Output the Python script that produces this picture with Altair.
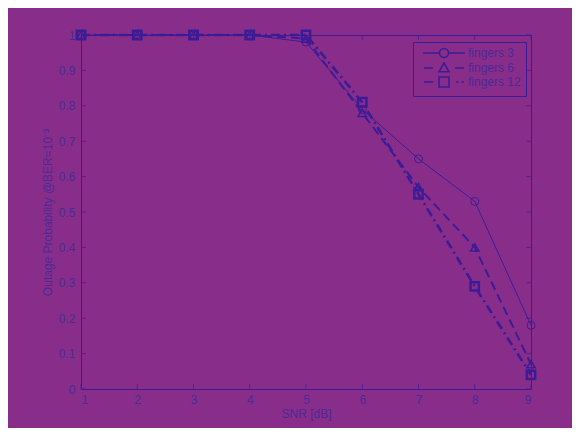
import altair as alt
import pandas as pd

snr = [1, 2, 3, 4, 5, 6, 7, 8, 9]
fingers_3 = [1.0, 1.0, 1.0, 1.0, 0.98, 0.79, 0.65, 0.53, 0.18]
fingers_6 = [1.0, 1.0, 1.0, 1.0, 0.99, 0.78, 0.57, 0.40, 0.07]
fingers_12 = [1.0, 1.0, 1.0, 1.0, 1.0, 0.81, 0.55, 0.29, 0.04]
series_names = ["fingers 3", "fingers 6", "fingers 12"]
x_ticks = [1, 2, 3, 4, 5, 6, 7, 8, 9]
y_ticks = [0, 0.1, 0.2, 0.3, 0.4, 0.5, 0.6, 0.7, 0.8, 0.9, 1]

BG = "#882E8A"
INK = "#3C1C96"
TEXT = "#4A2A95"
FONT = "Liberation Sans"
NARROW = "Liberation Sans Narrow, Liberation Sans"

rows = []
for name, vals in zip(series_names, [fingers_3, fingers_6, fingers_12]):
    for xv, yv in zip(snr, vals):
        rows.append({"snr": xv, "p": yv, "series": name})
df = pd.DataFrame(rows)

xs = alt.Scale(domain=[1, 9], nice=False, zero=False)
ys = alt.Scale(domain=[0, 1], nice=False, zero=False)

x_axis = alt.Axis(values=x_ticks, format="d", title="SNR [dB]", domain=False,
                  ticks=False, grid=False, labelPadding=5, titlePadding=3,
                  labelFont=NARROW, titleFont=FONT)
y_axis = alt.Axis(values=y_ticks, format="~g",
                  title="Outage Probability  @BER=10⁻³", domain=False,
                  ticks=False, grid=False, labelPadding=6, titlePadding=4,
                  labelFont=NARROW, titleFont=FONT)

X = alt.X("snr:Q", scale=xs, axis=x_axis)
Y = alt.Y("p:Q", scale=ys, axis=y_axis)

styles = {
    "fingers 3": dict(dash=None, width=1, shape="circle", size=64, sw=1),
    "fingers 6": dict(dash=[9, 5], width=2, shape="triangle-up", size=70, sw=1.5),
    "fingers 12": dict(dash=[9, 4, 2, 4], width=2.6, shape="square", size=70, sw=2.5),
}

layers = []
for name in series_names:
    st = styles[name]
    base = alt.Chart(df).transform_filter(alt.datum.series == name)
    line_kw = dict(color=INK, strokeWidth=st["width"])
    if st["dash"]:
        line_kw["strokeDash"] = st["dash"]
    layers.append(base.mark_line(**line_kw).encode(x=X, y=Y))
    layers.append(base.mark_point(shape=st["shape"], filled=False, color=INK,
                                  size=st["size"], strokeWidth=st["sw"],
                                  opacity=1).encode(x=X, y=Y))

legend_paths = [
    "M-4.2,0H-0.9M0.9,0H4.2M-0.9,0A0.9,0.9,0,1,0,0.9,0A0.9,0.9,0,1,0,-0.9,0Z",
    "M-4,0H-2.2M2.2,0H4M0,-1L1,0.75L-1,0.75Z",
    "M-4,0H-2.1M-1,-1H1V1H-1ZM2.4,0H2.9M3.5,0H4",
]

legend_layer = alt.Chart(df).mark_point(opacity=0, filled=False, color=INK).encode(
    x=X, y=Y,
    shape=alt.Shape("series:N",
                    scale=alt.Scale(domain=series_names, range=legend_paths),
                    legend=alt.Legend(title=None, orient="none", legendX=332, legendY=7,
                                      padding=5, symbolSize=100, symbolOffset=20,
                                      labelOffset=18, symbolStrokeWidth=1.6,
                                      symbolOpacity=1, symbolFillColor="transparent",
                                      symbolStrokeColor=INK, strokeColor=INK,
                                      fillColor=BG, labelFont=FONT, labelFontSize=12,
                                      labelColor=TEXT, rowPadding=-2)),
)

# inward tick marks on all four sides
bottom = pd.DataFrame({"snr": x_ticks, "p": [0] * len(x_ticks)})
top = pd.DataFrame({"snr": x_ticks, "p": [1] * len(x_ticks)})
left = pd.DataFrame({"snr": [1] * len(y_ticks), "p": y_ticks})
right = pd.DataFrame({"snr": [9] * len(y_ticks), "p": y_ticks})

tick_layers = [
    alt.Chart(bottom).mark_tick(orient="vertical", size=5, thickness=1, color=INK, yOffset=-2.5).encode(x=X, y=Y),
    alt.Chart(top).mark_tick(orient="vertical", size=5, thickness=1, color=INK, yOffset=2.5).encode(x=X, y=Y),
    alt.Chart(left).mark_tick(orient="horizontal", size=5, thickness=1, color=INK, xOffset=2.5).encode(x=X, y=Y),
    alt.Chart(right).mark_tick(orient="horizontal", size=5, thickness=1, color=INK, xOffset=-2.5).encode(x=X, y=Y),
]

chart = alt.layer(*tick_layers, *layers, legend_layer).properties(
    width=450, height=354,
    autosize=alt.AutoSizeParams(type="none"),
    padding={"left": 73, "top": 27, "right": 41, "bottom": 39},
    background=BG,
).configure_view(
    stroke=INK, strokeWidth=1
).configure_axis(
    labelFontSize=12, labelColor=TEXT, titleFontSize=12, titleColor=TEXT,
    titleFontWeight="normal"
)

chart.save("out.html", embed_options={"renderer": "svg", "actions": False})
